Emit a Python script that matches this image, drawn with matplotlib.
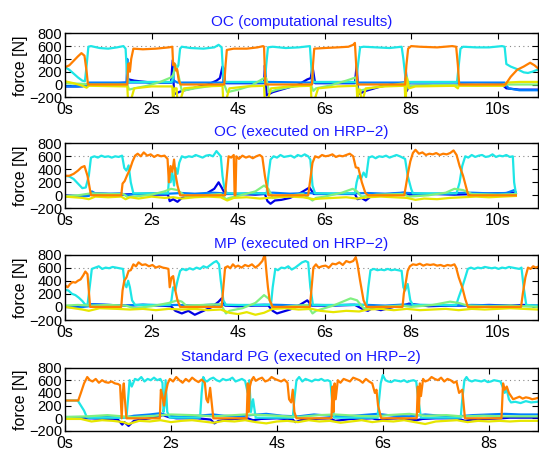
import matplotlib
matplotlib.use('Agg')
import matplotlib.pyplot as plt

plt.rcParams['font.family'] = ['Liberation Sans', 'DejaVu Sans']

# ---------------- common text ----------------
TITLES = ["OC (computational results)", "OC (executed on HRP\u22122)",
          "MP (executed on HRP\u22122)", "Standard PG (executed on HRP\u22122)"]
YTICKS = [-200, 0, 200, 400, 600, 800]
XTICKS_LONG = [0, 2, 4, 6, 8, 10]
XTICKS_SHORT = [0, 2, 4, 6, 8]
XLABELS_LONG = ["0s", "2s", "4s", "6s", "8s", "10s"]
XLABELS_SHORT = ["0s", "2s", "4s", "6s", "8s"]
YLABEL = "force [N]"
REF_LEVEL = 600

# ---------------- Panel 1: OC (computational results) ----------------
P1_T_ORANGE = [0, 0.1, 0.2, 0.3, 0.38, 0.45, 0.5, 0.53, 1.44, 1.46, 1.48, 1.5, 1.53, 1.58, 1.8, 2.1, 2.4, 2.48,
               2.5, 2.53, 2.56, 2.59, 2.63, 2.67, 3.68, 3.71, 3.74, 3.9, 4.2, 4.45, 4.58, 4.6, 4.63, 5.71, 5.73, 5.76,
               6.0, 6.3, 6.55, 6.66, 6.7, 6.73, 6.76, 7.86, 7.89, 7.93, 8.0, 8.2, 8.6, 8.95, 9.04, 9.08, 9.11,
               10.18, 10.3, 10.45, 10.6, 10.75, 10.85, 10.92]
P1_V_ORANGE = [270, 300, 370, 440, 490, 450, 200, 0, 0, 320, 330, 200, 400, 560, 550, 560, 580, 590,
               300, 330, 220, 240, 60, 0, 0, 300, 540, 560, 560, 580, 600, 590, 0, 0, 300, 560,
               570, 580, 590, 620, 650, 300, 0, 0, 300, 560, 600, 590, 580, 600, 590, 300, 0,
               0, 120, 230, 280, 340, 300, 260]
P1_T_CYAN = [0, 0.1, 0.2, 0.3, 0.4, 0.46, 0.5, 0.54, 0.6, 0.8, 1.0, 1.2, 1.35, 1.4, 1.43, 1.47,
             2.46, 2.5, 2.54, 2.58, 2.62, 2.66, 2.7, 2.9, 3.2, 3.45, 3.55, 3.62, 3.66, 3.7,
             4.62, 4.65, 4.69, 4.8, 5.1, 5.4, 5.66, 5.7, 5.74, 6.73, 6.77, 6.82, 6.9, 7.2, 7.5, 7.78, 7.82, 7.86, 7.9,
             9.06, 9.1, 9.14, 9.2, 9.5, 9.8, 10.1, 10.16, 10.2, 10.3, 10.45, 10.6, 10.7, 10.8, 10.92]
P1_V_CYAN = [270, 230, 170, 110, 60, 50, 300, 590, 600, 570, 560, 580, 600, 560, 200, 40,
             40, 100, 320, 250, 300, 560, 590, 570, 560, 580, 620, 580, 100, 40,
             40, 300, 580, 590, 570, 580, 600, 200, 40, 40, 300, 580, 590, 580, 570, 590, 400, 150, 40,
             40, 300, 560, 590, 580, 580, 600, 590, 320, 280, 240, 190, 180, 200, 230]
P1_T_BLUE = [0, 0.3, 0.5, 0.55, 1.2, 1.44, 1.47, 1.6, 2.0, 2.45, 2.49, 2.52, 2.56, 2.7, 3.0, 3.3, 3.5, 3.58, 3.64,
             3.67, 3.72, 4.2, 4.6, 4.62, 4.66, 4.8, 5.1, 5.4, 5.6, 5.68, 5.72, 5.78, 6.3, 6.7, 6.74, 6.78, 6.95,
             7.3, 7.7, 7.85, 7.9, 7.95, 8.5, 9.05, 9.1, 9.5, 10.1, 10.2, 10.5, 10.92]
P1_V_BLUE = [-30, -30, -20, 20, 20, 30, 80, 60, 30, 30, 380, -150, -140, -100, -50, 0, 60, 100, 280,
             40, 20, 20, 20, 300, -170, -120, -60, 0, 80, 100, 280, 20, 20, 20, 300, -150, -100,
             -30, 20, 30, -100, -20, -10, -10, 0, -10, 0, -60, -80, -80]
P1_T_MIDBLUE = [0, 0.4, 0.5, 0.55, 1.42, 1.44, 1.46, 2.48, 2.52, 2.6, 3.66, 3.68, 3.7, 4.62, 4.66, 5.7, 5.72,
                5.74, 6.74, 6.78, 7.86, 7.88, 7.92, 7.96, 9.08, 9.12, 10.16, 10.25, 10.5, 10.92]
P1_V_MIDBLUE = [-30, -30, 0, 30, 30, 400, 30, 30, 60, 30, 30, 250, 30, 30, 40, 30, 250,
                30, 30, 30, 30, 200, -60, 30, 30, 30, 30, -60, -90, -90]
P1_T_GREEN = [0, 0.4, 0.55, 1.44, 1.48, 1.6, 1.9, 2.2, 2.45, 2.5, 2.56, 2.62, 2.7, 3.0, 3.6, 3.68, 3.75, 4.0, 4.3,
              4.6, 4.65, 4.72, 4.9, 5.2, 5.68, 5.74, 5.8, 6.1, 6.5, 6.72, 6.78, 6.85, 7.2, 7.85, 7.9, 7.95, 8.5,
              9.05, 9.1, 10.15, 10.2, 10.5, 10.92]
P1_V_GREEN = [20, 10, 0, 0, -80, -60, -20, 40, 110, 150, 300, 150, -100, -60, 0, 0, -120, -80, -20,
              100, 100, -120, -80, -40, 0, -100, -60, -20, 60, 110, -130, -90, -40, 20, 120, -20, -10,
              -10, -10, -10, 0, 0, 0]
P1_T_YELLOW = [0, 0.2, 0.4, 0.5, 0.55, 1.44, 1.46, 1.5, 1.6, 2.0, 2.48, 2.5, 2.53, 2.58, 2.6, 2.64, 2.75, 3.2,
               3.64, 3.66, 3.7, 3.8, 4.2, 4.6, 4.62, 4.66, 4.76, 5.2, 5.68, 5.7, 5.74, 5.85, 6.3, 6.74, 6.76,
               6.78, 6.82, 6.86, 6.95, 7.4, 7.85, 7.87, 7.9, 7.95, 8.1, 9.0, 9.08, 9.1, 9.5, 10.15, 10.2,
               10.5, 10.92]
P1_V_YELLOW = [50, 20, -20, -50, -20, -30, -300, -300, -60, -30, -30, -300, -60, -60, -300, -300, -60, -30,
               -20, -300, -300, -60, -30, -20, -300, -300, -60, -30, -20, -300, -300, -60, -30, -20, -300,
               -80, -80, -300, -60, -30, -20, -300, 100, -60, -30, -20, -60, -20, -20, -20, 30,
               40, 40]

# ---------------- Panel 2: OC (executed on HRP-2) ----------------
P2_T_ORANGE = [0, 0.1, 0.2, 0.3, 0.38, 0.45, 0.52, 0.6, 1.3, 1.33, 1.38, 1.43, 1.5, 1.56, 1.62, 1.68, 1.75, 1.82,
               1.9, 1.98, 2.06, 2.14, 2.22, 2.3, 2.37, 2.4, 2.44, 2.48, 2.52, 2.56, 2.6, 2.66, 3.7, 3.74, 3.78,
               3.84, 3.9, 3.92, 3.94, 3.96, 4.02, 4.1, 4.18, 4.26, 4.34, 4.42, 4.5, 4.56, 4.62, 4.7, 5.62, 5.67,
               5.72, 5.78, 5.86, 5.94, 6.02, 6.1, 6.18, 6.26, 6.34, 6.42, 6.5, 6.58, 6.66, 6.72, 6.78, 6.86, 6.94,
               7.0, 7.84, 7.88, 7.93, 7.98, 8.04, 8.1, 8.18, 8.26, 8.34, 8.42, 8.5, 8.58, 8.66, 8.74, 8.82, 8.9,
               8.98, 9.05, 9.12, 9.2, 9.28, 9.32, 10.42]
P2_V_ORANGE = [300, 300, 330, 380, 430, 450, 300, 0, 0, 180, 220, 300, 400, 520, 610, 640, 600, 660,
               610, 630, 590, 620, 600, 610, 560, 200, 450, 360, 550, 300, 150, 0, 0, 300, 600,
               580, 620, 0, 0, 600, 560, 610, 580, 600, 570, 600, 620, 590, 300, 0, 0, 250,
               500, 600, 580, 620, 600, 610, 630, 590, 610, 600, 620, 640, 600, 430, 420, 200, 40,
               0, 0, 150, 350, 520, 650, 700, 640, 660, 620, 640, 630, 650, 620, 640, 630, 650,
               690, 620, 450, 300, 100, 0, 0]
P2_T_CYAN = [0, 0.1, 0.2, 0.3, 0.4, 0.48, 0.55, 0.6, 0.68, 0.76, 0.84, 0.92, 1.0, 1.08, 1.16, 1.24, 1.32, 1.37,
             1.42, 1.47, 1.52, 1.58, 2.38, 2.41, 2.44, 2.48, 2.52, 2.56, 2.6, 2.64, 2.7, 2.78, 2.86, 2.94, 3.02,
             3.1, 3.18, 3.26, 3.34, 3.42, 3.5, 3.55, 3.6, 3.64, 3.68, 3.74, 4.66, 4.7, 4.75, 4.82, 4.9, 4.98,
             5.06, 5.14, 5.22, 5.3, 5.38, 5.46, 5.54, 5.62, 5.67, 5.72, 5.78, 6.7, 6.74, 6.78, 6.84, 6.9, 6.96,
             7.02, 7.1, 7.18, 7.26, 7.34, 7.42, 7.5, 7.58, 7.66, 7.74, 7.8, 7.86, 7.92, 8.0, 8.04, 9.05, 9.12,
             9.18, 9.25, 9.32, 9.4, 9.48, 9.56, 9.64, 9.72, 9.8, 9.88, 9.96, 10.04, 10.12, 10.2, 10.28, 10.35,
             10.38, 10.42]
P2_V_CYAN = [300, 290, 250, 180, 110, 120, 300, 580, 600, 580, 610, 590, 600, 580, 600, 590, 610, 420,
             380, 460, 200, 30, 30, 330, 200, 350, 150, 420, 330, 500, 600, 580, 600, 590, 620,
             600, 580, 610, 620, 600, 680, 640, 600, 300, 120, 30, 30, 300, 550, 600, 580, 620,
             590, 600, 610, 580, 620, 600, 630, 600, 550, 150, 30, 30, 200, 300, 250, 350, 280,
             580, 600, 570, 600, 590, 610, 580, 600, 620, 600, 580, 560, 300, 100, 30, 30, 200,
             450, 600, 580, 620, 590, 610, 620, 590, 600, 630, 590, 610, 600, 620, 590, 600,
             200, 30]
P2_T_BLUE = [0, 0.3, 0.55, 0.6, 1.0, 1.3, 1.6, 2.0, 2.38, 2.42, 2.5, 2.6, 2.7, 2.9, 3.2, 3.45, 3.55, 3.62, 3.7,
             4.0, 4.4, 4.62, 4.68, 4.75, 4.85, 5.0, 5.2, 5.4, 5.55, 5.65, 5.75, 6.2, 6.7, 6.76, 6.85, 6.95, 7.1,
             7.4, 7.7, 7.85, 7.95, 8.5, 9.0, 9.5, 10.0, 10.42]
P2_V_BLUE = [0, -10, 0, 30, 20, 10, 20, 10, 10, -90, -60, -100, -40, -20, 0, 100, 200, 120, 20,
             20, 10, 20, -90, -130, -80, -70, -40, 20, 80, 120, 20, 20, 20, -60, -40, -80, 0,
             10, 30, 40, 10, 20, 10, 20, 30, 40]
P2_T_MIDBLUE = [0, 0.3, 0.55, 0.62, 0.7, 1.0, 1.3, 1.4, 1.6, 2.0, 2.4, 2.7, 3.0, 3.4, 3.7, 4.0, 4.3, 4.6, 4.8,
                5.2, 5.6, 5.8, 6.2, 6.7, 7.0, 7.4, 7.8, 8.1, 8.5, 9.0, 9.4, 9.8, 10.2, 10.38, 10.42]
P2_V_MIDBLUE = [-20, -20, -10, 60, 30, 25, 30, 0, 20, 30, 25, 35, 25, 40, 30, 20, 35, 30, 40,
                25, 35, 30, 20, 30, 35, 25, 40, 30, 20, 35, 40, 30, 35, 80, 30]
P2_T_GREEN = [0, 0.3, 0.6, 1.0, 1.35, 1.45, 1.6, 2.0, 2.3, 2.45, 2.6, 2.7, 2.8, 3.2, 3.6, 3.72, 3.8, 4.0, 4.4,
              4.6, 4.7, 4.8, 5.0, 5.5, 5.72, 5.8, 6.0, 6.4, 6.65, 6.75, 6.85, 7.2, 7.8, 7.95, 8.4, 8.8, 9.0,
              9.2, 9.4, 10.0, 10.42]
P2_V_GREEN = [-10, 0, 30, 20, 20, -30, -20, 10, 60, 100, 80, 30, -30, 0, 20, -60, -40, -10, 60,
              150, 100, -40, -20, 20, -80, -40, -20, 40, 100, 60, -20, 10, 20, -20, 0, 40, 100,
              80, 20, 10, 20]
P2_T_YELLOW = [0, 0.2, 0.4, 0.55, 0.7, 1.0, 1.3, 1.4, 1.5, 1.7, 2.0, 2.3, 2.5, 2.7, 3.0, 3.3, 3.6, 3.75, 3.9,
               4.2, 4.5, 4.7, 4.9, 5.2, 5.5, 5.75, 5.9, 6.2, 6.5, 6.75, 7.0, 7.3, 7.6, 7.9, 8.1, 8.3, 8.6,
               8.9, 9.2, 9.5, 9.8, 10.1, 10.42]
P2_V_YELLOW = [-20, -30, -40, -60, -20, -30, -20, -60, -30, -50, -20, -40, -30, -50, -30, -20, -30, -80, -40,
               -30, -50, -40, -30, -20, -30, -60, -50, -40, -30, -50, -30, -20, -30, -40, -70, -50, -60,
               -40, -30, -20, -30, -20, -10]

# ---------------- Panel 3: MP (executed on HRP-2) ----------------
P3_T_ORANGE = [0, 0.06, 0.12, 0.18, 0.24, 0.3, 0.36, 0.42, 0.47, 0.52, 0.58, 1.3, 1.33, 1.37, 1.42, 1.47, 1.52,
               1.58, 1.64, 1.7, 1.78, 1.86, 1.94, 2.02, 2.1, 2.18, 2.26, 2.34, 2.39, 2.42, 2.46, 2.5, 2.55, 2.6,
               2.66, 3.62, 3.66, 3.7, 3.76, 3.82, 3.88, 3.94, 4.0, 4.08, 4.16, 4.24, 4.32, 4.4, 4.48, 4.56, 4.62,
               4.66, 4.69, 4.73, 4.8, 5.66, 5.7, 5.74, 5.8, 5.86, 5.94, 6.02, 6.1, 6.18, 6.26, 6.34, 6.42, 6.5,
               6.58, 6.66, 6.72, 6.76, 6.82, 6.9, 6.97, 7.8, 7.83, 7.87, 7.92, 7.97, 8.04, 8.12, 8.2, 8.28, 8.36,
               8.44, 8.52, 8.6, 8.68, 8.76, 8.84, 8.92, 9.0, 9.04, 9.1, 9.18, 9.25, 9.31, 10.54, 10.58, 10.64,
               10.7, 10.76, 10.82, 10.88, 10.92]
P3_V_ORANGE = [330, 300, 350, 380, 370, 400, 420, 480, 540, 500, 0, 0, 250, 400, 450, 550, 560,
               650, 620, 680, 640, 650, 620, 640, 600, 620, 600, 590, 580, 300, 450, 470, 250, 100,
               0, 0, 300, 600, 620, 590, 650, 610, 630, 600, 640, 620, 650, 600, 640, 700, 800,
               500, 300, 100, 0, 0, 300, 600, 650, 600, 620, 630, 600, 660, 650, 680, 640, 700,
               680, 700, 760, 650, 400, 100, 0, 0, 200, 350, 550, 620, 650, 640, 660, 630, 650,
               640, 650, 630, 640, 620, 640, 630, 650, 600, 450, 300, 120, 0, 0, 200, 450,
               600, 580, 620, 600, 610]
P3_T_CYAN = [0, 0.08, 0.16, 0.24, 0.32, 0.4, 0.46, 0.52, 0.57, 0.62, 0.7, 0.78, 0.86, 0.94, 1.02, 1.1, 1.18,
             1.26, 1.34, 1.38, 1.42, 1.46, 1.5, 1.55, 1.62, 2.42, 2.46, 2.5, 2.55, 2.6, 2.66, 2.72, 2.8, 2.88,
             2.96, 3.04, 3.12, 3.2, 3.28, 3.36, 3.44, 3.5, 3.56, 3.6, 3.66, 3.72, 4.76, 4.8, 4.86, 4.92, 5.0,
             5.08, 5.16, 5.24, 5.32, 5.4, 5.48, 5.56, 5.62, 5.67, 5.73, 6.97, 7.01, 7.06, 7.14, 7.22, 7.3, 7.38,
             7.46, 7.54, 7.62, 7.7, 7.78, 7.82, 7.86, 7.92, 7.98, 8.04, 9.04, 9.1, 9.18, 9.25, 9.31, 9.38, 9.46,
             9.54, 9.62, 9.7, 9.78, 9.86, 9.94, 10.02, 10.1, 10.18, 10.26, 10.34, 10.42, 10.5, 10.55, 10.6,
             10.66, 10.92]
P3_V_CYAN = [260, 250, 200, 180, 140, 90, 40, 30, 300, 580, 600, 620, 580, 600, 590, 610, 600,
             590, 580, 350, 300, 400, 300, 100, 30, 30, 100, 300, 250, 400, 550, 580, 560, 590,
             570, 600, 580, 620, 600, 640, 680, 700, 650, 400, 100, 30, 30, 300, 580, 560, 600,
             590, 620, 570, 600, 640, 680, 700, 680, 300, 30, 30, 300, 560, 580, 560, 570, 560,
             580, 560, 570, 560, 550, 300, 250, 350, 100, 30, 30, 150, 300, 450, 580, 600, 580,
             600, 590, 610, 600, 590, 600, 580, 600, 590, 610, 600, 590, 580, 600, 300,
             30, 20]
P3_T_BLUE = [0, 0.3, 0.55, 0.62, 1.0, 1.4, 1.8, 2.2, 2.45, 2.55, 2.7, 2.85, 3.0, 3.2, 3.4, 3.55, 3.62, 3.7, 4.0,
             4.4, 4.7, 4.8, 4.9, 5.0, 5.2, 5.4, 5.6, 5.7, 6.2, 6.7, 6.9, 7.0, 7.1, 7.3, 7.6, 7.8, 7.95, 8.4, 8.9,
             9.3, 9.8, 10.3, 10.6, 10.92]
P3_V_BLUE = [0, 10, 20, 40, 30, 20, 30, 20, 10, -60, -100, -60, -120, -60, 0, 80, 130, 20, 10,
             20, 20, -60, -100, -80, -40, 20, 100, 20, 20, 30, -40, -60, -20, -50, 0, 20, 50, 10, 20,
             20, 30, 20, 30, 20]
P3_T_MIDBLUE = [0, 0.3, 0.55, 0.62, 1.0, 1.4, 1.8, 2.2, 2.6, 3.0, 3.4, 3.8, 4.2, 4.6, 5.0, 5.4, 5.8, 6.2, 6.6,
                7.0, 7.4, 7.8, 8.2, 8.6, 9.0, 9.4, 9.8, 10.2, 10.6, 10.92]
P3_V_MIDBLUE = [0, -10, 10, 40, 30, 20, 35, 25, 30, 20, 35, 30, 25, 35, 30, 20, 30, 25, 35,
                30, 20, 35, 30, 25, 20, 30, 25, 20, 15, 10]
P3_T_GREEN = [0, 0.3, 0.6, 1.0, 1.4, 1.6, 2.0, 2.4, 2.6, 2.7, 2.8, 3.2, 3.6, 3.72, 3.8, 4.1, 4.4, 4.6, 4.72,
              4.8, 5.2, 5.6, 5.72, 5.8, 6.2, 6.6, 6.75, 6.9, 7.2, 7.8, 8.0, 8.5, 8.9, 9.1, 9.3, 9.8, 10.3,
              10.6, 10.92]
P3_V_GREEN = [20, 30, 20, 30, 20, -20, 10, 60, 100, 80, 20, 30, 40, -100, -60, -20, 60, 180, 120,
              -20, 10, 30, -100, -60, 20, 130, 100, -20, 0, 20, 0, 30, 80, 60, 20, 10, 20,
              10, 0]
P3_T_YELLOW = [0, 0.2, 0.4, 0.55, 0.8, 1.2, 1.5, 1.8, 2.1, 2.4, 2.7, 3.0, 3.3, 3.6, 3.8, 4.0, 4.2, 4.4, 4.6,
               4.8, 5.1, 5.4, 5.7, 5.9, 6.2, 6.5, 6.8, 7.0, 7.3, 7.6, 7.9, 8.2, 8.5, 8.8, 9.1, 9.4, 9.7, 10.0,
               10.3, 10.6, 10.92]
P3_V_YELLOW = [0, -20, -40, -60, -20, -30, -40, -30, -50, -30, -40, -30, -50, -40, -90, -110, -80, -120, -90,
               -30, -20, -40, -30, -60, -80, -60, -70, -40, -30, -50, -30, -50, -40, -30, -50, -30, -40, -30,
               -20, -30, -40]

# ---------------- Panel 4: Standard PG (executed on HRP-2) ----------------
P4_T_ORANGE = [0, 0.25, 0.3, 0.36, 0.42, 0.47, 0.52, 0.58, 0.64, 0.7, 0.76, 0.82, 0.88, 0.94, 1.0, 1.04, 1.07,
               1.09, 1.11, 1.13, 1.16, 1.79, 1.81, 1.84, 1.87, 1.9, 1.94, 1.98, 2.04, 2.1, 2.16, 2.22, 2.28, 2.34,
               2.4, 2.46, 2.52, 2.58, 2.64, 2.67, 2.7, 2.74, 2.8, 3.43, 3.45, 3.47, 3.49, 3.52, 3.56, 3.6, 3.66,
               3.72, 3.78, 3.84, 3.9, 3.96, 4.02, 4.08, 4.14, 4.2, 4.23, 4.27, 4.3, 4.33, 4.37, 5.03, 5.05, 5.07,
               5.09, 5.11, 5.15, 5.2, 5.26, 5.32, 5.38, 5.44, 5.5, 5.56, 5.62, 5.68, 5.74, 5.8, 5.85, 5.88, 5.91,
               5.94, 5.97, 6.64, 6.66, 6.68, 6.7, 6.72, 6.76, 6.8, 6.86, 6.92, 6.98, 7.04, 7.1, 7.16, 7.22, 7.28,
               7.34, 7.39, 7.44, 7.5, 7.55, 8.24, 8.27, 8.3, 8.34, 8.38, 8.42, 8.46, 8.52, 8.58, 8.64, 8.7, 8.76,
               8.82, 8.88, 8.92]
P4_V_ORANGE = [280, 280, 400, 550, 650, 600, 580, 620, 560, 600, 570, 560, 580, 550, 540, 520, 0,
               400, 550, 300, 0, 0, 450, 350, 200, 400, 550, 620, 580, 650, 600, 560, 620, 580,
               640, 600, 570, 610, 560, 300, 250, 480, 0, 0, 550, 100, 500, 600, 650, 590, 620,
               640, 580, 600, 650, 620, 600, 580, 610, 560, 300, 250, 450, 100, 0, 0, 500, 100,
               550, 300, 600, 560, 620, 600, 580, 640, 620, 600, 560, 620, 580, 550, 400, 450, 200,
               100, 0, 0, 500, 100, 550, 350, 620, 580, 600, 650, 620, 600, 640, 580, 620, 600,
               560, 580, 400, 450, 0, 0, 550, 450, 500, 400, 350, 300, 320, 340, 310, 330, 320,
               300, 310, 320]
P4_T_CYAN = [0, 0.24, 0.3, 0.36, 0.41, 0.45, 1.16, 1.19, 1.22, 1.26, 1.32, 1.38, 1.44, 1.5, 1.56, 1.62, 1.68,
             1.74, 1.8, 1.84, 1.86, 1.88, 1.9, 1.93, 1.98, 2.55, 2.58, 2.61, 2.64, 2.68, 2.74, 2.8, 2.86, 2.92,
             2.98, 3.04, 3.1, 3.16, 3.22, 3.28, 3.34, 3.4, 3.45, 3.48, 3.51, 3.55, 3.6, 4.3, 4.33, 4.37, 4.42,
             4.48, 4.54, 4.6, 4.66, 4.72, 4.78, 4.84, 4.9, 4.96, 5.01, 5.04, 5.08, 5.9, 5.93, 5.96, 6.0, 6.05,
             6.1, 6.16, 6.22, 6.28, 6.34, 6.4, 6.46, 6.52, 6.58, 6.63, 6.67, 6.72, 7.47, 7.5, 7.54, 7.58, 7.62,
             7.68, 7.74, 7.8, 7.86, 7.92, 7.98, 8.04, 8.1, 8.16, 8.22, 8.26, 8.3, 8.34, 8.38, 8.42, 8.5, 8.6,
             8.7, 8.8, 8.92]
P4_V_CYAN = [280, 280, 200, 120, 20, 10, 10, 300, 600, 500, 620, 600, 650, 580, 620, 600, 640,
             600, 620, 560, 100, 200, 600, 100, 10, 10, 400, 650, 600, 580, 620, 640, 600, 580,
             620, 600, 610, 640, 580, 600, 620, 590, 400, 600, 100, 300, 10, 10, 300, 600, 650,
             580, 620, 600, 580, 610, 600, 620, 590, 600, 580, 300, 10, 10, 300, 550, 680, 600,
             580, 570, 600, 590, 580, 600, 570, 590, 600, 580, 300, 10, 10, 300, 600, 650, 600,
             580, 600, 590, 580, 600, 570, 580, 600, 590, 580, 500, 400, 450, 300, 250, 260, 240,
             270, 250, 260]
P4_T_BLUE = [0, 0.3, 0.5, 1.0, 1.08, 1.12, 1.2, 1.3, 1.6, 1.85, 1.95, 2.1, 2.5, 2.75, 2.82, 2.9, 3.2, 3.45, 3.55,
             3.7, 4.0, 4.3, 4.35, 4.45, 4.7, 5.0, 5.1, 5.4, 5.8, 5.95, 6.05, 6.3, 6.64, 6.75, 7.0, 7.4, 7.55, 7.7,
             8.0, 8.24, 8.4, 8.92]
P4_V_BLUE = [0, 0, 0, -20, -100, -60, -120, -40, 0, 50, 20, 0, 0, -20, -80, -40, -10, 0, -30,
             -10, 0, -20, -60, -30, -10, 0, -40, -10, 0, -30, -10, 0, -30, -10, 0, 0, -40, -20,
             -10, 0, 10, 10]
P4_T_MIDBLUE = [0, 0.3, 0.5, 0.8, 1.1, 1.3, 1.6, 1.8, 1.95, 2.2, 2.5, 2.8, 3.0, 3.3, 3.5, 3.8, 4.1, 4.4, 4.7,
                5.0, 5.3, 5.6, 5.9, 6.2, 6.5, 6.8, 7.1, 7.4, 7.7, 8.0, 8.3, 8.6, 8.92]
P4_V_MIDBLUE = [20, 20, 10, 20, 10, 40, 60, 80, 40, 20, 40, 60, 40, 30, 50, 70, 40, 30, 60,
                40, 30, 50, 70, 40, 30, 60, 40, 30, 50, 60, 70, 60, 60]
P4_T_GREEN = [0, 0.4, 0.8, 1.1, 1.3, 1.7, 2.0, 2.4, 2.8, 3.0, 3.4, 3.8, 4.2, 4.4, 4.8, 5.1, 5.5, 5.9, 6.1,
              6.5, 6.8, 7.2, 7.5, 7.9, 8.3, 8.6, 8.92]
P4_V_GREEN = [20, 30, 50, 30, 20, 40, 60, 50, 30, 40, 60, 50, 30, 20, 50, 60, 40, 30, 50,
              70, 40, 50, 30, 40, 30, 30, 30]
P4_T_YELLOW = [0, 0.3, 0.5, 0.7, 0.9, 1.1, 1.2, 1.4, 1.6, 1.8, 2.0, 2.2, 2.4, 2.6, 2.8, 3.0, 3.2, 3.4, 3.6,
               3.8, 4.0, 4.2, 4.4, 4.6, 4.8, 5.0, 5.2, 5.4, 5.6, 5.8, 6.0, 6.2, 6.4, 6.6, 6.8, 7.0, 7.2, 7.4,
               7.6, 7.8, 8.0, 8.2, 8.4, 8.6, 8.92]
P4_V_YELLOW = [-10, -10, -50, -30, -40, -60, -90, -40, -50, -30, -60, -40, -30, -50, -70, -40, -50, -30, -60,
               -80, -50, -40, -60, -30, -50, -40, -70, -50, -30, -60, -40, -50, -30, -60, -90, -50, -40, -30,
               -60, -40, -50, -40, -50, -40, -40]

# ---------------- styling ----------------
COLORS = {
    'blue': '#0000e6',
    'midblue': '#0080ff',
    'cyan': '#1ee6e6',
    'green': '#80f080',
    'yellow': '#e6e600',
    'orange': '#ff7f00',
}

PANELS = [
    dict(title=TITLES[0], xmax=10.92, xt=XTICKS_LONG, xl=XLABELS_LONG,
         series=[('blue', P1_T_BLUE, P1_V_BLUE), ('midblue', P1_T_MIDBLUE, P1_V_MIDBLUE),
                 ('cyan', P1_T_CYAN, P1_V_CYAN), ('green', P1_T_GREEN, P1_V_GREEN),
                 ('yellow', P1_T_YELLOW, P1_V_YELLOW), ('orange', P1_T_ORANGE, P1_V_ORANGE)]),
    dict(title=TITLES[1], xmax=10.92, xt=XTICKS_LONG, xl=XLABELS_LONG,
         series=[('blue', P2_T_BLUE, P2_V_BLUE), ('midblue', P2_T_MIDBLUE, P2_V_MIDBLUE),
                 ('cyan', P2_T_CYAN, P2_V_CYAN), ('green', P2_T_GREEN, P2_V_GREEN),
                 ('yellow', P2_T_YELLOW, P2_V_YELLOW), ('orange', P2_T_ORANGE, P2_V_ORANGE)]),
    dict(title=TITLES[2], xmax=10.92, xt=XTICKS_LONG, xl=XLABELS_LONG,
         series=[('blue', P3_T_BLUE, P3_V_BLUE), ('midblue', P3_T_MIDBLUE, P3_V_MIDBLUE),
                 ('cyan', P3_T_CYAN, P3_V_CYAN), ('green', P3_T_GREEN, P3_V_GREEN),
                 ('yellow', P3_T_YELLOW, P3_V_YELLOW), ('orange', P3_T_ORANGE, P3_V_ORANGE)]),
    dict(title=TITLES[3], xmax=8.92, xt=XTICKS_SHORT, xl=XLABELS_SHORT,
         series=[('blue', P4_T_BLUE, P4_V_BLUE), ('midblue', P4_T_MIDBLUE, P4_V_MIDBLUE),
                 ('cyan', P4_T_CYAN, P4_V_CYAN), ('green', P4_T_GREEN, P4_V_GREEN),
                 ('yellow', P4_T_YELLOW, P4_V_YELLOW), ('orange', P4_T_ORANGE, P4_V_ORANGE)]),
]

W, H = 539, 453
fig = plt.figure(figsize=(W / 100, H / 100), dpi=100)

# axes boxes in pixels: (top, bottom)
BOXES = [(33.3, 97.3), (143.3, 208.3), (254.5, 320.0), (367.5, 431.0)]
LEFT_PX, RIGHT_PX = 65.0, 537.5

FS_YTICK = 10.5
FS_XTICK = 11.5
FS_YLABEL = 11.5
FS_TITLE = 11
for p, (top, bot) in zip(PANELS, BOXES):
    ax = fig.add_axes([LEFT_PX / W, 1 - bot / H, (RIGHT_PX - LEFT_PX) / W, (bot - top) / H])
    ax.axhline(REF_LEVEL, color='#888888', lw=0.8, ls=(0, (1, 3)), zorder=1)
    for name, t, v in p['series']:
        n = min(len(t), len(v))
        ax.plot(t[:n], v[:n], color=COLORS[name], lw=1.6, zorder=2, solid_joinstyle='round')
    ax.set_xlim(0, p['xmax'])
    ax.set_ylim(-200, 800)
    ax.set_yticks(YTICKS)
    ax.set_xticks(p['xt'])
    ax.set_xticklabels(p['xl'])
    ax.tick_params(direction='in', top=True, right=True, length=4, width=0.8)
    ax.tick_params(axis='y', pad=2, labelsize=FS_YTICK)
    ax.tick_params(axis='x', pad=3.5, labelsize=FS_XTICK)
    for s in ax.spines.values():
        s.set_linewidth(1.0)
    ax.set_ylabel(YLABEL, fontsize=FS_YLABEL, labelpad=1)
    ax.set_title(p['title'], color='#1a1aff', fontsize=FS_TITLE, pad=5)

fig.savefig('out.png', dpi=100)
